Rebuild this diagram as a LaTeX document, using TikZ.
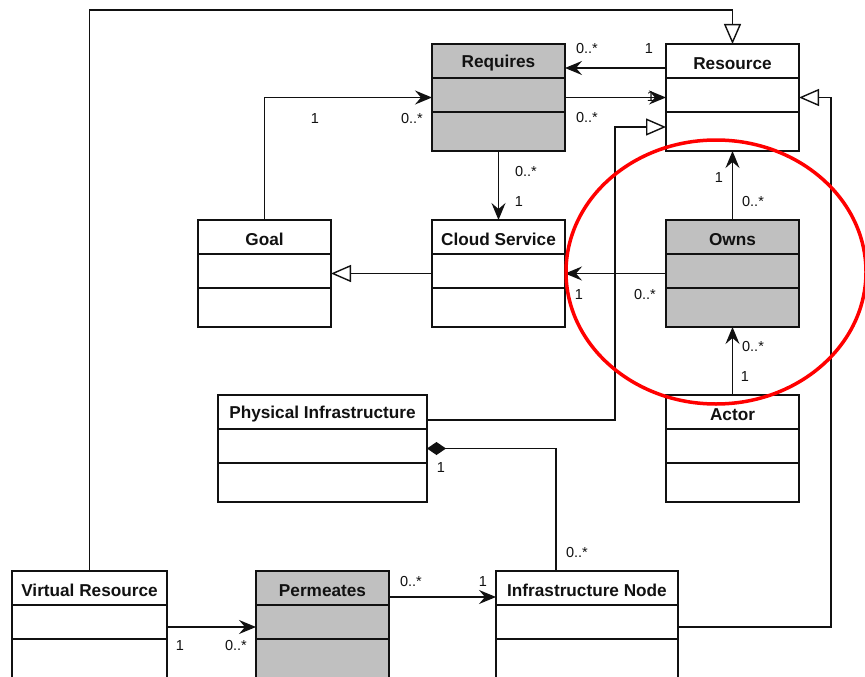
\documentclass[tikz,border=0pt]{standalone}
\usepackage{fontspec}
\setmainfont{Liberation Sans}
\usetikzlibrary{arrows.meta,calc}
\definecolor{boxgray}{HTML}{C0C0C0}
\definecolor{ink}{HTML}{111111}
\tikzset{
  umlbox/.style={draw=ink, line width=1.4pt, anchor=north west, inner sep=0pt, outer sep=0pt, minimum height=107pt},
  umltitle/.style={font=\fontsize{17.2}{20}\selectfont\bfseries, text=ink, inner sep=0pt},
  sepline/.style={draw=ink, line width=1.4pt},
  conn/.style={draw=ink, line width=1.4pt},
  assoc/.style={conn, -{Stealth[length=17pt,width=14pt,inset=6pt]}},
  gen/.style={conn, -{Triangle[open,length=20pt,width=17pt,fill=white]}},
  comp/.style={conn, -{Diamond[length=19pt,width=13pt,fill=ink]}},
  mult/.style={font=\fontsize{14.5}{17}\selectfont, text=ink, inner sep=0pt},
}
\newcommand{\umlclass}[6]{%
  \node[umlbox, fill=#5, minimum width=#4pt] (#1) at (#2,#3) {};
  \node[umltitle] (#1-t) at ([yshift=-19.5pt]#1.north) {#6};
  \draw[sepline] ([yshift=-34pt]#1.north west) -- ([yshift=-34pt]#1.north east);
  \draw[sepline] ([yshift=-68pt]#1.north west) -- ([yshift=-68pt]#1.north east);
}
\begin{document}
\begin{tikzpicture}[x=1pt,y=-1pt]
\useasboundingbox (0,0) rectangle (865,677);
\fill[white] (0,0) rectangle (865,677);

\umlclass{req}{432}{44}{133}{boxgray}{Requires}
\umlclass{res}{666}{44}{133}{white}{Resource}
\umlclass{goal}{198}{220}{133}{white}{Goal}
\umlclass{cs}{432}{220}{133}{white}{Cloud Service}
\umlclass{owns}{666}{220}{133}{boxgray}{Owns}
\umlclass{pi}{218}{395}{209}{white}{Physical Infrastructure}
\umlclass{actor}{666}{395}{133}{white}{Actor}
\tikzset{umlbox/.append style={minimum height=112pt}}
\umlclass{vr}{12}{571}{155}{white}{Virtual Resource}
\umlclass{perm}{256}{571}{133}{boxgray}{Permeates}
\umlclass{inode}{496}{571}{182}{white}{Infrastructure Node}

\coordinate (topline) at (400,10);
\coordinate (pibend) at (615,127);
\coordinate (rbend) at (831,300);

% connectors
\draw[gen] (vr.north) |- (topline) -| (res.north);
\draw[assoc] ([yshift=-24pt]res.north west) -- ([yshift=-24pt]req.north east);
\draw[assoc] (req.east) -- (res.west);
\draw[assoc] (goal.north) |- (req.west);
\draw[assoc] (req.south) -- (cs.north);
\draw[gen] (cs.west) -- (goal.east);
\draw[assoc] (owns.west) -- (cs.east);
\draw[assoc] (owns.north) -- (res.south);
\draw[assoc] (actor.north) -- (owns.south);
\draw[gen] ([yshift=-25pt]pi.north east) -| (pibend) -- ([yshift=-83pt]res.north west);
\draw[comp] ([xshift=-31pt]inode.north) |- (pi.east);
\draw[gen] (inode.east) -| (rbend) |- (res.east);
\draw[assoc] (vr.east) -- (perm.west);
\draw[assoc] ([yshift=-26pt]perm.north east) -- ([yshift=-26pt]inode.north west);

% multiplicities
\node[mult] (m1) at (587,49) {0..*};
\node[mult] (m2) at (649,49) {1};
\node[mult] (m3) at (651,97) {1};
\node[mult] (m4) at (587,118) {0..*};
\node[mult] (m5) at (315,119) {1};
\node[mult] (m6) at (412,119) {0..*};
\node[mult] (m7) at (526,172) {0..*};
\node[mult] (m8) at (519,202) {1};
\node[mult] (m9) at (579,295) {1};
\node[mult] (m10) at (645,295) {0..*};
\node[mult] (m11) at (719,178) {1};
\node[mult] (m12) at (753,202) {0..*};
\node[mult] (m13) at (753,347) {0..*};
\node[mult] (m14) at (745,377) {1};
\node[mult] (m15) at (441,468) {1};
\node[mult] (m16) at (577,553) {0..*};
\node[mult] (m17) at (180,646) {1};
\node[mult] (m18) at (236,646) {0..*};
\node[mult] (m19) at (411,582) {0..*};
\node[mult] (m20) at (483,582) {1};

% highlight ellipse
\draw[red, line width=3.5pt] (716,272) ellipse [x radius=150pt, y radius=132pt];
\end{tikzpicture}
\end{document}
